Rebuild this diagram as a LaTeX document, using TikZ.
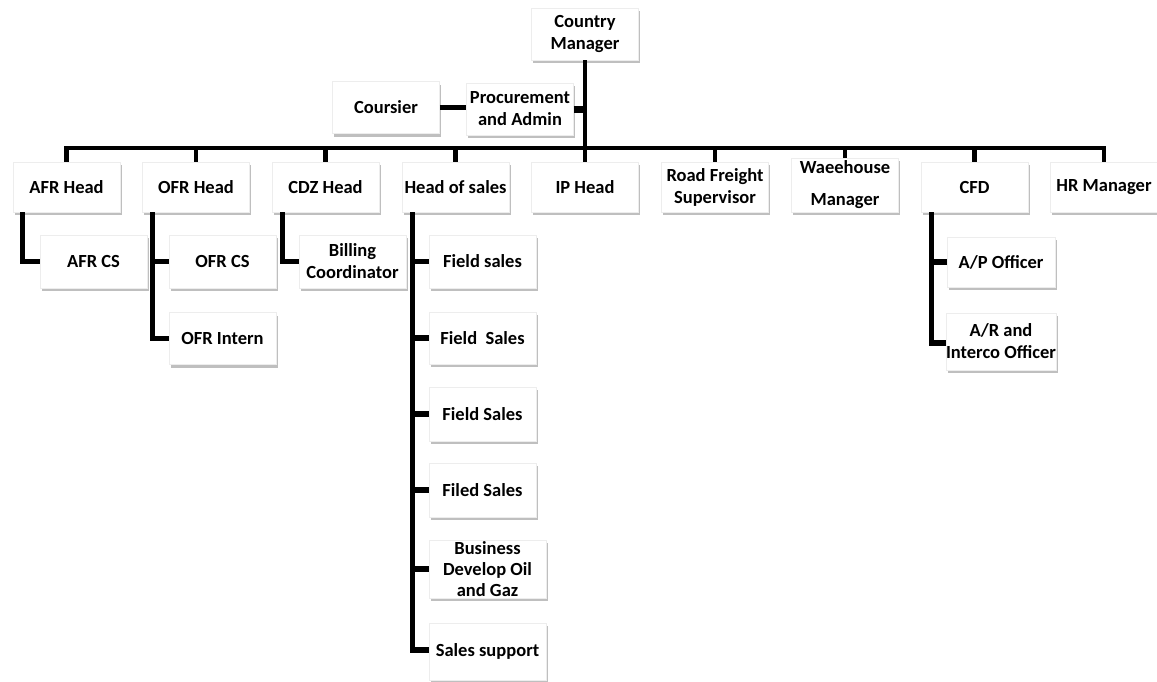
\documentclass[tikz,border=0pt]{standalone}
\usepackage{fontspec}
\setmainfont{Carlito}
\usetikzlibrary{shadows}
\begin{document}
\begin{tikzpicture}[x=1pt,y=-1pt,
  box/.style={draw=black!7, fill=white, line width=0.6pt,
    minimum width=107pt, minimum height=#1, inner sep=0pt,
    align=center, font=\fontsize{18.5}{22}\selectfont\bfseries,
    drop shadow={shadow xshift=1.8pt, shadow yshift=-3pt, fill=black, opacity=0.25}},
  box/.default=51pt,
  conn/.style={line width=4.8pt, black},
  link/.style={line width=5.2pt, black}]
\useasboundingbox (0,0) rectangle (1157,681);

% top of the chart
\node[box=52pt] (cm) at (585,34) {Country\\Manager};
\node[box=52pt] (proc) at (520,109) {Procurement\\and Admin};
\node[box=52pt] (cour) at (386,107.5) {Coursier};

% department heads
\node[box=50pt] (afr) at (66.5,187) {AFR Head};
\node[box=50pt] (ofr) at (196,187) {OFR Head};
\node[box=50pt] (cdz) at (325.5,187) {CDZ Head};
\node[box=50pt] (hos) at (455.5,187) {Head of sales};
\node[box=50pt] (ip) at (585,187) {IP Head};
\node[box=50pt] (road) at (715,187) {Road Freight\\Supervisor};
\node[box=54pt, font=\fontsize{18.5}{32}\selectfont\bfseries] (wh) at (845,185) {Waeehouse\\Manager};
\node[box=50pt] (cfd) at (974.5,187) {CFD};
\node[box=50pt, minimum width=108pt] (hr) at (1104,187) {HR Manager};

% staff
\node[box=53pt] (afrcs) at (93.5,261.5) {AFR CS};
\node[box=53pt] (ofrcs) at (222.5,261.5) {OFR CS};
\node[box=52pt] (ofrin) at (222.5,338.5) {OFR Intern};
\node[box=53pt] (bill) at (352.5,261.5) {Billing\\Coordinator};
\node[box=53pt] (fs1) at (482.5,261.5) {Field sales};
\node[box=52pt] (fs2) at (482.5,338) {Field~~Sales};
\node[box=54pt] (fs3) at (482.5,414) {Field Sales};
\node[box=54pt] (fs4) at (482.5,490) {Filed Sales};
\node[box=58pt, minimum width=117pt, font=\fontsize{18.5}{21}\selectfont\bfseries] (bdo) at (487.5,569) {Business\\Develop Oil\\and Gaz};
\node[box=57pt, minimum width=117pt] (ssup) at (487.5,651.5) {Sales support};
\node[box=50pt, minimum width=108pt] (ap) at (1001,262) {A/P Officer};
\node[box=57pt, minimum width=108pt] (ar) at (1001,341.5) {A/R and\\Interco Officer};

% main bus
\coordinate (bus) at (585,148);
\draw[conn] (cm.south) -- (cm.south |- bus);
\draw[conn] (afr.north) |- (hr.north |- bus) -- (hr.north);
\foreach \n in {ofr,cdz,hos,ip,road,wh,cfd}
  \draw[conn] (\n.north) -- (\n.north |- bus);

% staff functions
\draw[line width=7pt] (proc.east) -- (proc.east -| cm.south);
\draw[conn] (cour.east) -- (cour.east -| proc.west);

% reporting lines below the heads
\draw[link] ([xshift=10pt]afr.south west) |- (afrcs.west);
\draw[link] ([xshift=10pt]ofr.south west) |- (ofrcs.west);
\draw[link] ([xshift=10pt]ofr.south west) |- (ofrin.west);
\draw[link] ([xshift=11pt]cdz.south west) |- (bill.west);
\foreach \n in {fs1,fs2,fs3,fs4,bdo}
  \draw[link] ([xshift=11pt]hos.south west) |- (\n.west);
\draw[link] ([xshift=11pt]hos.south west) |- ([yshift=1.5pt]ssup.west);
\draw[link] ([xshift=11pt]cfd.south west) |- (ap.west);
\draw[link] ([xshift=11pt]cfd.south west) |- ([yshift=-1.5pt]ar.west);
\end{tikzpicture}
\end{document}
